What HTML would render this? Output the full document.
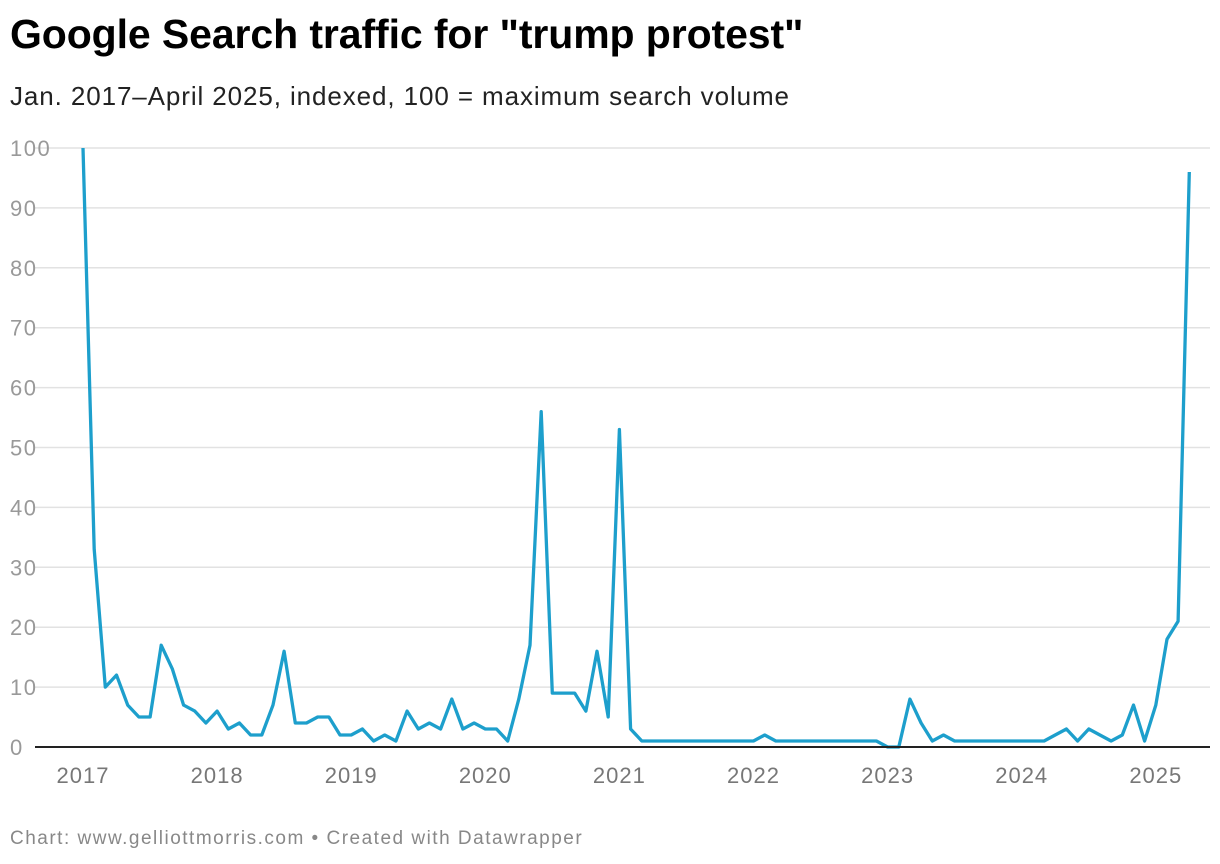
<!DOCTYPE html>
<html><head><meta charset="utf-8">
<style>
body{margin:0;background:#fff;font-family:"Liberation Sans",Arial,sans-serif;}
#wrap{position:relative;width:1220px;height:864px;overflow:hidden;}
h1{position:absolute;left:10px;top:11px;margin:0;font-size:41px;font-weight:bold;color:#000;letter-spacing:-0.1px}
.sub{position:absolute;left:10px;top:81px;font-size:26px;color:#222;letter-spacing:0.9px}
.foot{position:absolute;left:10px;top:828px;font-size:19px;color:#888;letter-spacing:1.5px}
</style></head><body>
<div id="wrap">
<h1>Google Search traffic for "trump protest"</h1>
<div class="sub">Jan. 2017–April 2025, indexed, 100 = maximum search volume</div>
<svg id="chart" width="1220" height="864" style="position:absolute;left:0;top:0"></svg>
<div class="foot">Chart: www.gelliottmorris.com • Created with Datawrapper</div>
</div>
<script>
const yTicks = [0,10,20,30,40,50,60,70,80,90,100];
const xYears = [2017,2018,2019,2020,2021,2022,2023,2024,2025];
const startYear = 2017;
const values2017 = [100,33,10,12,7,5,5,17,13,7,6,4];
const values2018 = [6,3,4,2,2,7,16,4,4,5,5,2];
const values2019 = [2,3,1,2,1,6,3,4,3,8,3,4];
const values2020 = [3,3,1,8,17,56,9,9,9,6,16,5];
const values2021 = [53,3,1,1,1,1,1,1,1,1,1,1];
const values2022 = [1,2,1,1,1,1,1,1,1,1,1,1];
const values2023 = [0,0,8,4,1,2,1,1,1,1,1,1];
const values2024 = [1,1,1,2,3,1,3,2,1,2,7,1];
const values2025 = [7,18,21,96];
const series = [].concat(values2017,values2018,values2019,values2020,values2021,values2022,values2023,values2024,values2025);

const svg = document.getElementById('chart');
const NS = 'http://www.w3.org/2000/svg';
const x0 = 83, pxPerYear = 134.1;
const yBase = 747, yTop = 148;
function xScale(monthIndex){ return x0 + monthIndex * pxPerYear / 12; }
function yScale(v){ return yBase - (v/100)*(yBase-yTop); }
function mk(tag, attrs){ const e=document.createElementNS(NS,tag); for(const k in attrs) e.setAttribute(k,attrs[k]); svg.appendChild(e); return e; }

yTicks.forEach(t=>{
  const y = yScale(t);
  if(t>0){
    const g = mk('line',{x1:35,x2:1210,y1:y,y2:y,stroke:'#e2e2e2','stroke-width':1.5});
    
    
  }
  const lb = mk('text',{x:10,y:y+8,'font-size':22,fill:'#999','letter-spacing':'1.5','font-family':'Liberation Sans, Arial, sans-serif'});
  lb.textContent = t;
  
  
});

xYears.forEach(yr=>{
  const x = xScale((yr-startYear)*12);
  const lb = mk('text',{x:x,y:783,'font-size':22,fill:'#777','letter-spacing':'1','text-anchor':'middle','font-family':'Liberation Sans, Arial, sans-serif'});
  lb.textContent = yr;
  
  
});

const pts = series.map((v,i)=>xScale(i).toFixed(1)+','+yScale(v).toFixed(1)).join(' ');
const line = mk('polyline',{points:pts,fill:'none',stroke:'#1d9fcc','stroke-width':3.3,'stroke-linejoin':'round'});



const ax = mk('line',{x1:35,x2:1210,y1:yBase,y2:yBase,stroke:'#222','stroke-width':2});


</script>
</body></html>
